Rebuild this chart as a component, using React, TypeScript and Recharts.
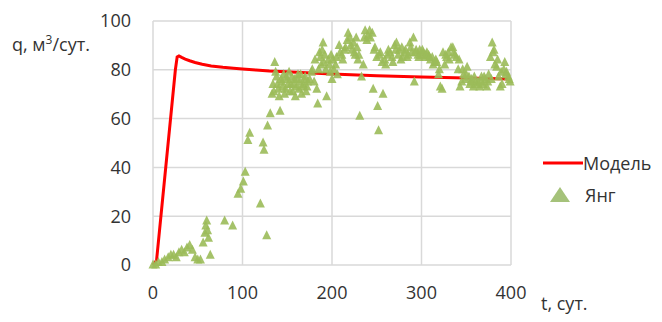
import { FC } from "react";
import {
  ComposedChart,
  Line,
  Scatter,
  XAxis,
  YAxis,
  CartesianGrid,
  Legend,
} from "recharts";

// model curve: [t, q]
const modelT = [0, 2, 4, 25, 27, 29, 32, 36, 41, 47, 55, 65, 78, 90, 100, 115, 130, 160, 200, 250, 300, 350, 400];
const modelQ = [0, 0.8, 2, 80, 85.3, 85.7, 85.1, 84.4, 83.7, 83, 82.3, 81.6, 81, 80.6, 80.3, 79.9, 79.5, 79, 78.3, 77.6, 77, 76.6, 76.2];

// Young measurements
const yangT = [
  0, 3, 6, 10, 13, 17, 20, 23, 26, 29, 32, 35, 38, 41, 44, 47, 50, 53, 56, 58,
  59, 60, 61, 62, 64, 80, 89, 95, 98, 101, 103, 106, 108, 120, 123, 124, 127, 128, 131, 133,
  134, 136, 138, 140, 142, 144, 146, 148, 150, 152, 154, 156, 158, 160, 162, 164, 166, 168, 170, 172,
  175, 178, 181, 183, 184, 186, 188, 190, 192, 194, 196, 198, 200, 202, 204, 206, 209, 212, 215, 218,
  220, 222, 224, 226, 228, 229, 231, 233, 235, 237, 240, 242, 245, 246, 248, 250, 251, 252, 254, 257,
  260, 262, 265, 268, 270, 272, 275, 277, 279, 282, 284, 287, 289, 291, 292, 294, 296, 298, 300, 302,
  304, 306, 308, 310, 313, 315, 317, 319, 321, 323, 324, 326, 328, 330, 333, 335, 337, 339, 341, 343,
  345, 347, 349, 351, 353, 354, 356, 358, 360, 362, 365, 367, 369, 371, 373, 375, 377, 379, 380, 382,
  384, 386, 388, 390, 392, 393, 395, 397, 399,
  // second pass, odd days inside the band
  135, 137, 139, 141, 143, 145, 147, 149, 151, 153, 155, 157, 159, 161, 163, 165, 167, 169, 171, 173,
  177, 180, 185, 187, 189, 191, 193, 197, 199, 201, 205, 208, 211, 214, 217, 221, 225, 227, 230, 236,
  239, 243, 247, 253, 256, 259, 263, 267, 271, 274, 278, 281, 285, 288, 293, 297, 301, 305, 309, 312,
  316, 320, 327, 331, 336, 342, 346, 350, 355, 359, 363, 366, 370, 374, 378, 381, 385, 389, 394, 398,
];
const yangQ = [
  0, 0, 1, 1, 2, 3, 4, 4, 3, 5, 6, 5, 7, 8, 6, 3, 2, 2, 9, 13,
  16, 18, 14, 11, 4, 18, 16, 29, 31, 34, 38, 51, 54, 25, 50, 47, 12, 57, 62, 70,
  74, 83, 77, 72, 63, 75, 78, 72, 76, 79, 74, 71, 76, 73, 78, 75, 70, 74, 77, 73,
  76, 80, 84, 72, 66, 87, 82, 91, 86, 69, 84, 79, 76, 80, 82, 78, 87, 84, 89, 95,
  93, 88, 91, 86, 89, 84, 61, 77, 82, 96, 94, 96, 95, 72, 89, 85, 65, 55, 87, 70,
  82, 86, 87, 83, 90, 91, 88, 84, 85, 88, 85, 91, 87, 93, 75, 88, 86, 88, 86, 87,
  85, 87, 86, 84, 82, 83, 83, 78, 73, 72, 87, 82, 85, 87, 89, 89, 86, 85, 80, 73,
  75, 78, 76, 81, 77, 74, 76, 73, 75, 74, 73, 77, 74, 76, 73, 78, 85, 91, 87, 82,
  81, 77, 73, 74, 80, 83, 79, 77, 75,
  71, 79, 74, 69, 76, 73, 70, 77, 74, 71, 77, 74, 69, 76, 72, 78, 73, 76, 71, 75,
  79, 75, 80, 85, 88, 83, 80, 82, 86, 84, 85, 90, 86, 88, 92, 90, 87, 93, 86, 93,
  92, 93, 88, 86, 83, 84, 88, 85, 88, 86, 89, 87, 86, 89, 87, 85, 88, 86, 85, 85,
  84, 80, 86, 84, 87, 84, 80, 78, 75, 77, 75, 75, 77, 75, 76, 88, 84, 79, 78, 76,
];

const xTicks = [0, 100, 200, 300, 400];
const yTicks = [0, 20, 40, 60, 80, 100];

const modelData = modelT.map((t, i) => ({ t, q: modelQ[i] }));
const yangData = yangT.map((t, i) => ({ t, q: yangQ[i] }));

const RED = "#ff0000";
const GREEN = "#9bbb59";
const FONT = "'Open Sans', sans-serif";

const Triangle = (props: any) => {
  const { cx, cy } = props;
  if (cx == null || cy == null) return null;
  return (
    <polygon
      points={`${cx},${cy - 5.5} ${cx - 4.5},${cy + 3.5} ${cx + 4.5},${cy + 3.5}`}
      fill={GREEN}
      fillOpacity={0.9}
    />
  );
};

const LegendBox = () => (
  <div style={{ fontFamily: FONT, fontSize: 18, color: "#333" }}>
    <div style={{ display: "flex", alignItems: "center", height: 24 }}>
      <svg width={40} height={6}>
        <line x1={0} y1={3} x2={40} y2={3} stroke={RED} strokeWidth={3} />
      </svg>
      <span>Модель</span>
    </div>
    <div style={{ display: "flex", alignItems: "center", height: 24, marginTop: 8 }}>
      <svg width={42} height={16}>
        <polygon points="17,0 7,15 27,15" fill="#a5c27a" />
      </svg>
      <span>Янг</span>
    </div>
  </div>
);

const App: FC = () => {
  return (
    <div style={{ position: "relative", width: 654, height: 306, fontFamily: FONT }}>
      <ComposedChart
        width={654}
        height={306}
        margin={{ top: 13, right: 151, bottom: 19, left: 85 }}
        style={{ fontFamily: FONT }}
      >
        <CartesianGrid stroke="#d9d9d9" strokeWidth={1.5} />
        <XAxis
          dataKey="t"
          type="number"
          domain={[0, 400]}
          ticks={xTicks}
          axisLine={false}
          tickLine={false}
          tickMargin={15}
          height={30}
          tick={{ fill: "#333", fontSize: 18 }}
        />
        <YAxis
          type="number"
          domain={[0, 100]}
          ticks={yTicks}
          axisLine={false}
          tickLine={false}
          tickMargin={16}
          width={60}
          tick={{ fill: "#333", fontSize: 18 }}
        />
        <Scatter
          name="Янг"
          data={yangData}
          dataKey="q"
          shape={Triangle}
          isAnimationActive={false}
        />
        <Line
          name="Модель"
          data={modelData}
          dataKey="q"
          type="linear"
          stroke={RED}
          strokeWidth={3}
          dot={false}
          isAnimationActive={false}
        />
        <Legend
          layout="vertical"
          align="center"
          verticalAlign="middle"
          content={<LegendBox />}
          wrapperStyle={{ left: 535, top: 143, width: 120, height: 60 }}
        />
      </ComposedChart>
      <div
        style={{
          position: "absolute",
          left: 4,
          top: 20,
          fontSize: 18,
          color: "#333",
          whiteSpace: "nowrap",
          lineHeight: "24px",
        }}
      >
        q, м<sup style={{ fontSize: 12 }}>3</sup>/сут.
      </div>
      <div
        style={{
          position: "absolute",
          left: 533,
          top: 283,
          fontSize: 18,
          color: "#333",
          whiteSpace: "nowrap",
          lineHeight: "24px",
        }}
      >
        t, сут.
      </div>
    </div>
  );
};

export default App;
